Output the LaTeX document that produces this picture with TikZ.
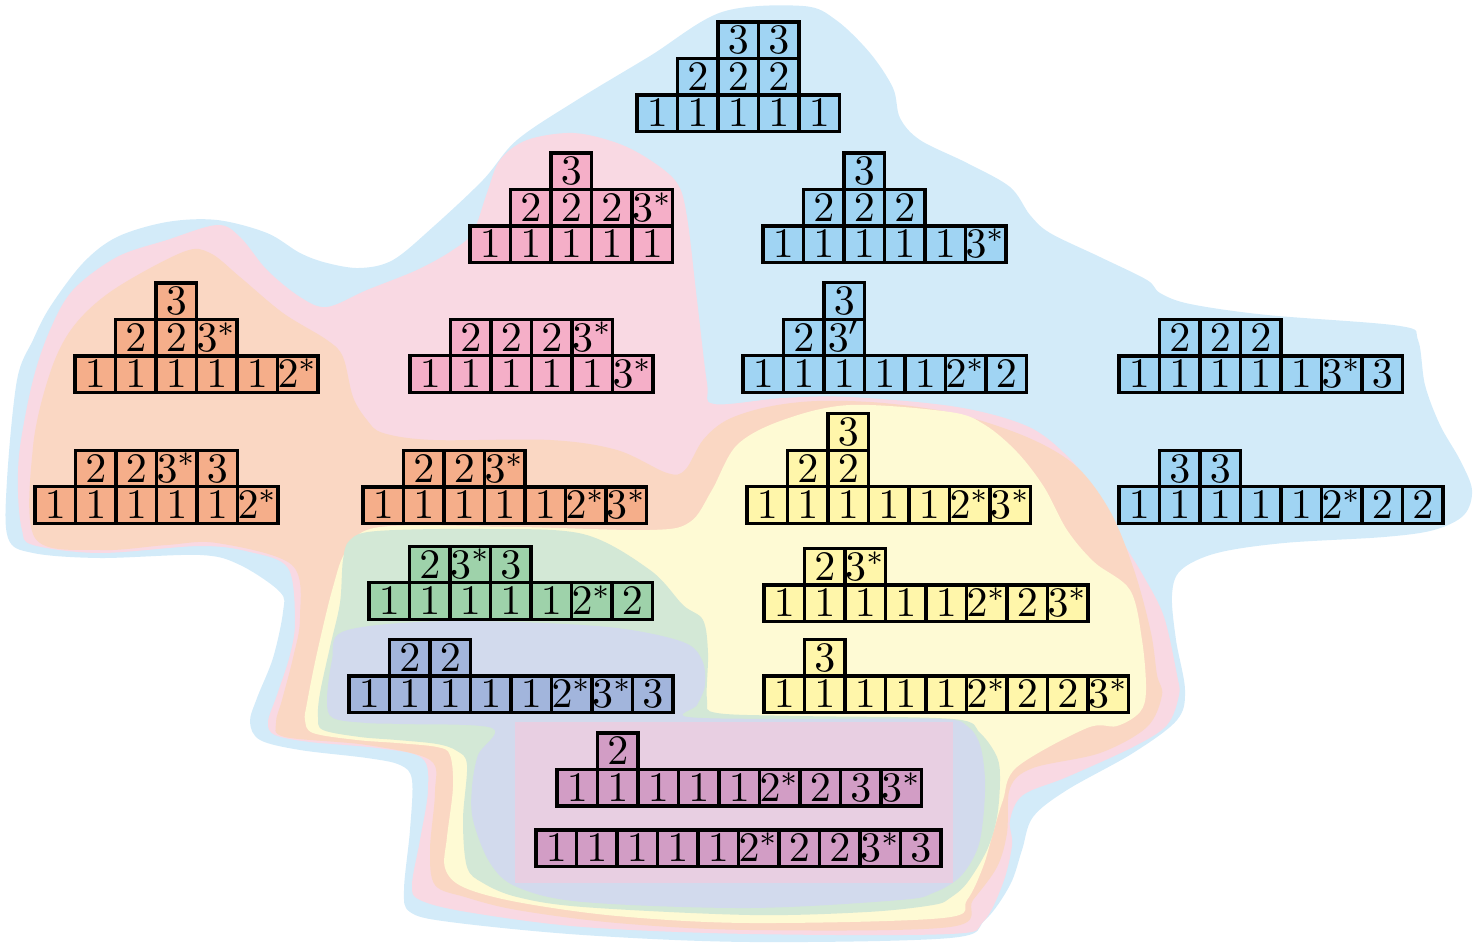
\documentclass[tikz,border=0pt]{standalone}
\usepackage{graphicx}
\definecolor{blueblob}{HTML}{D3EBF9}
\definecolor{bluecell}{HTML}{A0D4F3}
\definecolor{pinkblob}{HTML}{F9D9E3}
\definecolor{pinkcell}{HTML}{F5AFC8}
\definecolor{orangeblob}{HTML}{FAD7C3}
\definecolor{orangecell}{HTML}{F5AE8A}
\definecolor{yellowblob}{HTML}{FEFAD4}
\definecolor{yellowcell}{HTML}{FFF6AA}
\definecolor{greenblob}{HTML}{D3E8D6}
\definecolor{greencell}{HTML}{9ED2AA}
\definecolor{violetblob}{HTML}{D2DAED}
\definecolor{violetcell}{HTML}{A2B5DC}
\definecolor{mauveblob}{HTML}{E8CFE2}
\definecolor{mauvecell}{HTML}{D29DC5}
% one row of a tableau: name, left x, bottom y, row index, style, entries
\newcommand{\yrow}[6]{%
  \foreach \e [count=\i from 0] in {#6} {
    \node[#5] (#1-#4-\i) at ({#2+40.5*(#4+\i)+20.25},{#3-36.5*#4-18.25})
      {\scalebox{2.39}{$\e$}};
  }}
\begin{document}
\begin{tikzpicture}[x=0.02cm, y=-0.02cm,
        cell/.style={draw, line width=1.9pt, minimum width=0.81cm,
                     minimum height=0.73cm, inner sep=0pt,
                     text height=0.54cm, text depth=0pt},
        bcell/.style={cell, fill=bluecell},
        pcell/.style={cell, fill=pinkcell},
        ocell/.style={cell, fill=orangecell},
        ycell/.style={cell, fill=yellowcell},
        gcell/.style={cell, fill=greencell},
        vcell/.style={cell, fill=violetcell},
        mcell/.style={cell, fill=mauvecell},
        blob/.style={smooth cycle, tension=0.55}]
    \useasboundingbox (0,0) rectangle (1484,945);
    % regions
    \fill[blueblob] plot[blob] coordinates {(650,56) (722,12) (803,6) (836,20)
        (870,53) (893,88) (900,118) (920,140) (967,163) (1010,187) (1030,215)
        (1050,233) (1100,257) (1147,280) (1160,293) (1190,304) (1267,315)
        (1400,326) (1418,340) (1425,385) (1440,425) (1460,460) (1472,490)
        (1464,515) (1434,530) (1384,537) (1284,543) (1217,553) (1181,570)
        (1172,595) (1176,640) (1185,690) (1177,720) (1133,753) (1067,790)
        (1033,817) (1022,850) (1010,885) (985,920) (950,938) (750,942)
        (583,935) (450,922) (410,912) (404,890) (410,830) (412,780) (400,765)
        (367,758) (300,750) (260,740) (250,722) (257,698) (273,658) (283,612)
        (280,592) (240,565) (200,555) (100,558) (33,553) (8,538) (7,480)
        (17,380) (33,340) (50,307) (83,263) (117,237) (167,222) (217,220)
        (267,233) (300,253) (327,263) (360,268) (393,260) (433,227) (483,180)
        (517,140) (577,100)};
    \fill[pinkblob] plot[blob] coordinates {(500,160) (527,140) (573,133)
        (617,143) (650,160) (677,183) (687,217) (697,300) (707,383) (714,404)
        (783,398) (850,397) (957,407) (1029,427) (1071,460) (1091,490)
        (1117,533) (1144,577) (1164,617) (1177,675) (1179,695) (1167,725)
        (1133,747) (1067,777) (1023,795) (1010,820) (1012,845) (1003,883)
        (983,922) (950,934) (750,934) (583,927) (467,912) (420,900) (412,885)
        (420,840) (428,790) (422,758) (377,748) (310,742) (275,735) (268,722)
        (277,695) (290,655) (295,620) (288,568) (250,552) (200,546) (100,553)
        (33,545) (22,530) (18,492) (20,447) (33,380) (50,330) (73,290)
        (117,257) (167,240) (217,225) (240,237) (267,270) (300,297) (327,307)
        (367,290) (417,270) (453,250) (473,232) (487,193)};
    \fill[orangeblob] plot[blob] coordinates {(113,290) (183,252) (210,253)
        (240,277) (283,313) (327,340) (343,357) (353,397) (367,420) (383,433)
        (433,440) (550,440) (617,450) (667,473) (685,470) (703,440) (727,420)
        (767,407) (817,401) (883,403) (957,414) (1029,438) (1077,467)
        (1111,513) (1135,573) (1151,633) (1157,675) (1162,695) (1147,727)
        (1100,753) (1033,768) (1010,788) (1007,833) (997,867) (973,900)
        (950,927) (750,930) (617,923) (517,910) (465,897) (435,885) (430,850)
        (435,792) (430,760) (367,745) (285,737) (276,723) (282,700) (293,658)
        (300,618) (292,565) (217,543) (167,545) (100,550) (35,538) (33,447)
        (50,373) (73,327)};
    \fill[yellowblob] plot[blob] coordinates {(380,527) (517,527) (650,530)
        (690,522) (712,490) (737,445) (783,420) (850,405) (950,412) (985,425)
        (1017,452) (1044,487) (1067,530) (1094,562) (1130,590) (1142,640)
        (1146,690) (1140,712) (1117,726) (1087,728) (1017,767) (1003,800)
        (993,833) (983,867) (967,900) (943,918) (750,923) (617,916) (517,902)
        (463,887) (445,868) (447,837) (453,787) (450,755) (437,747) (397,743)
        (357,740) (313,733) (305,720) (307,703) (317,653) (333,587) (347,550)};
    \fill[greenblob] plot[blob] coordinates {(350,540) (377,531) (483,529)
        (583,534) (650,570) (683,605) (703,620) (708,653) (707,700) (717,713)
        (800,716) (953,719) (980,733) (997,757) (1000,780) (997,817) (987,850)
        (967,883) (950,898) (933,905) (867,912) (750,915) (583,907) (517,897)
        (483,883) (467,867) (463,820) (467,765) (457,751) (437,744) (397,740)
        (360,737) (323,730) (318,717) (320,693) (330,647) (340,603) (343,560)};
    \fill[violetblob] plot[blob] coordinates {(342,632) (417,622) (517,622)
        (617,628) (683,642) (702,660) (705,685) (697,705) (688,717) (800,719)
        (940,719) (967,726) (980,745) (985,780) (983,820) (977,850) (960,877)
        (933,893) (900,900) (750,908) (583,902) (517,887) (490,863) (473,820)
        (472,787) (478,755) (492,728) (400,724) (367,723) (333,718) (327,700)
        (332,660)};
    \fill[mauveblob] (515,722) rectangle (953,883);
    % blue
    \yrow{bA}{637}{131.5}{0}{bcell}{1,1,1,1,1}
    \yrow{bA}{637}{131.5}{1}{bcell}{2,2,2}
    \yrow{bA}{637}{131.5}{2}{bcell}{3,3}
    \yrow{bB}{763}{262.5}{0}{bcell}{1,1,1,1,1,3^*}
    \yrow{bB}{763}{262.5}{1}{bcell}{2,2,2}
    \yrow{bB}{763}{262.5}{2}{bcell}{3}
    \yrow{bC}{743}{392.3}{0}{bcell}{1,1,1,1,1,2^*,2}
    \yrow{bC}{743}{392.3}{1}{bcell}{2,3'}
    \yrow{bC}{743}{392.3}{2}{bcell}{3}
    \yrow{bD}{1119}{392.5}{0}{bcell}{1,1,1,1,1,3^*,3}
    \yrow{bD}{1119}{392.5}{1}{bcell}{2,2,2}
    \yrow{bE}{1119}{523.3}{0}{bcell}{1,1,1,1,1,2^*,2,2}
    \yrow{bE}{1119}{523.3}{1}{bcell}{3,3}
    % pink
    \yrow{pA}{470}{262.5}{0}{pcell}{1,1,1,1,1}
    \yrow{pA}{470}{262.5}{1}{pcell}{2,2,2,3^*}
    \yrow{pA}{470}{262.5}{2}{pcell}{3}
    \yrow{pB}{410}{392.3}{0}{pcell}{1,1,1,1,1,3^*}
    \yrow{pB}{410}{392.3}{1}{pcell}{2,2,2,3^*}
    % orange
    \yrow{oA}{75}{392.5}{0}{ocell}{1,1,1,1,1,2^*}
    \yrow{oA}{75}{392.5}{1}{ocell}{2,2,3^*}
    \yrow{oA}{75}{392.5}{2}{ocell}{3}
    \yrow{oB}{35}{523.3}{0}{ocell}{1,1,1,1,1,2^*}
    \yrow{oB}{35}{523.3}{1}{ocell}{2,2,3^*,3}
    \yrow{oC}{363}{523.5}{0}{ocell}{1,1,1,1,1,2^*,3^*}
    \yrow{oC}{363}{523.5}{1}{ocell}{2,2,3^*}
    % yellow
    \yrow{yA}{747}{523.3}{0}{ycell}{1,1,1,1,1,2^*,3^*}
    \yrow{yA}{747}{523.3}{1}{ycell}{2,2}
    \yrow{yA}{747}{523.3}{2}{ycell}{3}
    \yrow{yB}{764}{621.5}{0}{ycell}{1,1,1,1,1,2^*,2,3^*}
    \yrow{yB}{764}{621.5}{1}{ycell}{2,3^*}
    \yrow{yC}{764}{712.5}{0}{ycell}{1,1,1,1,1,2^*,2,2,3^*}
    \yrow{yC}{764}{712.5}{1}{ycell}{3}
    % green
    \yrow{gA}{369}{619.3}{0}{gcell}{1,1,1,1,1,2^*,2}
    \yrow{gA}{369}{619.3}{1}{gcell}{2,3^*,3}
    % violet
    \yrow{vA}{349}{712.5}{0}{vcell}{1,1,1,1,1,2^*,3^*,3}
    \yrow{vA}{349}{712.5}{1}{vcell}{2,2}
    % mauve
    \yrow{mA}{557}{806}{0}{mcell}{1,1,1,1,1,2^*,2,3,3^*}
    \yrow{mA}{557}{806}{1}{mcell}{2}
    \yrow{mB}{536}{866.5}{0}{mcell}{1,1,1,1,1,2^*,2,2,3^*,3}
\end{tikzpicture}
\end{document}
